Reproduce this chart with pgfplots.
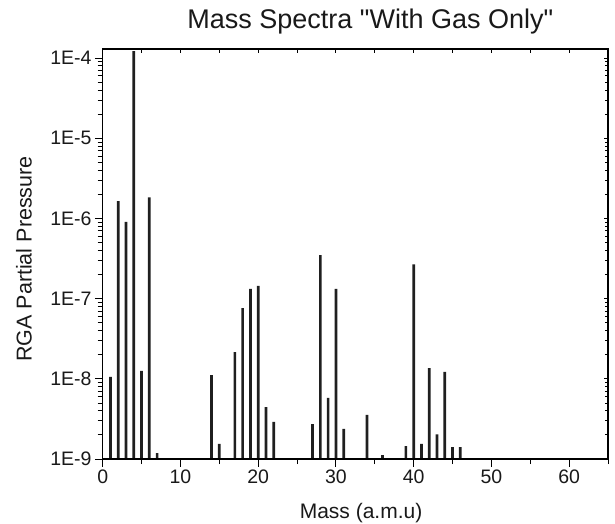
\documentclass[border=0pt]{standalone}
\usepackage{pgfplots}
\pgfplotsset{compat=1.18}
\usepackage{fontspec}
\setmainfont{Liberation Sans}[Ligatures=TeXOff]
\begin{document}
\begin{tikzpicture}
\useasboundingbox (-102.7bp,-65bp) rectangle ++(615bp,524bp);
\begin{axis}[
  name=main,
  at={(0,0)}, anchor=south west,
  scale only axis, width=505.3bp, height=410bp,
  xmin=0, xmax=65, ymin=1e-9, ymax=1.3e-4,
  ymode=log, log origin=infty,
  xtick={0,10,...,60}, minor xtick={5,15,...,65},
  ytick={1e-9,1e-8,1e-7,1e-6,1e-5,1e-4},
  yticklabels={1E-9,1E-8,1E-7,1E-6,1E-5,1E-4},
  xtick pos=bottom, ytick pos=left, tick align=outside,
  major tick length=7.7bp, minor tick length=5bp,
  every tick/.style={black, line width=0.9bp},
  axis line style={line width=1.1bp},
  /pgf/number format/assume math mode=true,
  ticklabel style={font=\fontsize{19.5bp}{23bp}\selectfont, text=black!90},
  clip=false,
]
\addplot[ybar, bar width=2.7bp, fill=black!88, draw=none] coordinates {
(1,1.06e-8) (2,1.65e-6) (3,9.1e-7) (4,1.22e-4) (5,1.26e-8) (6,1.83e-6) (7,1.18e-9)
(14,1.11e-8) (15,1.54e-9) (17,2.16e-8) (18,7.6e-8) (19,1.32e-7) (20,1.44e-7)
(21,4.45e-9) (22,2.9e-9) (27,2.73e-9) (28,3.5e-7) (29,5.8e-9) (30,1.32e-7)
(31,2.37e-9) (34,3.54e-9) (36,1.12e-9) (39,1.45e-9) (40,2.68e-7) (41,1.54e-9)
(42,1.36e-8) (43,2.03e-9) (44,1.22e-8) (45,1.41e-9) (46,1.41e-9)
};
\path (rel axis cs:0.5,1) ++(15bp,21bp) node[anchor=base, font=\fontsize{27bp}{31bp}\selectfont, text=black!90] {Mass Spectra "With Gas Only"};
\path (rel axis cs:0.5,0) ++(5.7bp,-59.3bp) node[anchor=base, font=\fontsize{21bp}{25bp}\selectfont, text=black!90] {Mass (a.m.u)};
\path (rel axis cs:0,0.5) ++(-71bp,-5bp) node[anchor=base, rotate=90, font=\fontsize{21.5bp}{25bp}\selectfont, text=black!90] {RGA Partial Pressure};
\end{axis}
\begin{axis}[
  at={(0,0)}, anchor=south west,
  scale only axis, width=505.3bp, height=410bp,
  xmin=0, xmax=65, ymin=1e-9, ymax=1.3e-4,
  ymode=log,
  xtick={0,5,...,65}, minor xtick={},
  ytick={1e-9,1e-8,1e-7,1e-6,1e-5,1e-4},
  xticklabels={}, yticklabels={},
  xtick pos=top, ytick pos=right, tick align=inside,
  major tick length=3.5bp, minor tick length=2.5bp,
  every tick/.style={black, line width=0.9bp},
  axis line style={line width=1.1bp},
]
\end{axis}
\end{tikzpicture}
\end{document}
